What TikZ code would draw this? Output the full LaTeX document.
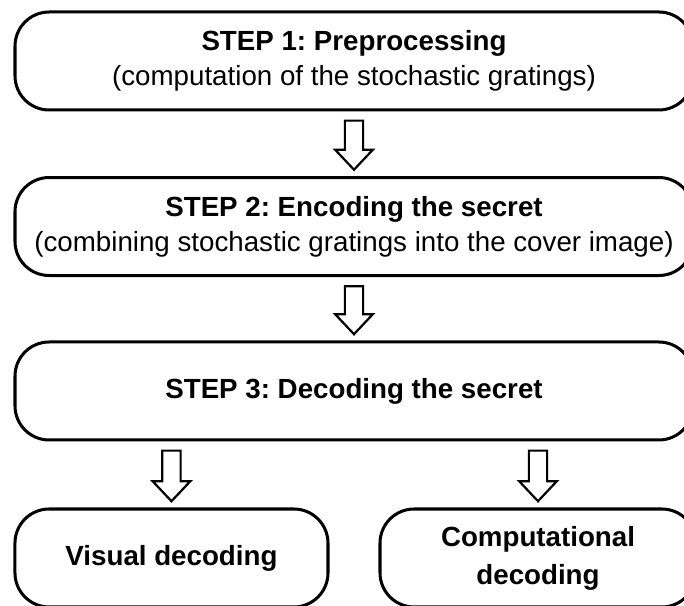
\documentclass[tikz,border=0pt]{standalone}
\usepackage{fontspec}
\setmainfont{Liberation Sans}
\usetikzlibrary{positioning, calc}
\frenchspacing

\begin{document}
\begin{tikzpicture}[
    stepbox/.style={draw, line width=1.5pt, rounded corners=17pt, minimum width=11.865cm, minimum height=1.715cm, align=center, font=\fontsize{13.8}{17.5}\selectfont},
    leafbox/.style={stepbox, minimum width=5.5cm, font=\fontsize{13.8}{19}\selectfont},
    blockarrow/.style={draw, line width=1.1pt, fill=white, to path={
        ($(\tikztostart)+(-0.16,-0.16)$) -- ($(\tikztotarget)+(-0.16,0.46)$) -- ($(\tikztotarget)+(-0.33,0.46)$) -- ($(\tikztotarget)+(0,0.11)$) -- ($(\tikztotarget)+(0.33,0.46)$) -- ($(\tikztotarget)+(0.16,0.46)$) -- ($(\tikztostart)+(0.16,-0.16)$) -- cycle}}
]
    \useasboundingbox (0,0) rectangle (11.97,-10.605);

    % Main steps
    \node[stepbox] (pre) at (6.195,-1.0675) {\textbf{STEP 1: Preprocessing}\\(computation of the stochastic gratings)};
    \node[stepbox] (enc) at (6.195,-3.964) {\textbf{STEP 2: Encoding the secret}\\(combining stochastic gratings into the cover image)};
    \node[stepbox] (dec) at (6.195,-6.8425) {\textbf{STEP 3: Decoding the secret}};

    % Two ways of decoding
    \node[leafbox, minimum width=5.478cm] (vis) at (3.001,-9.765) {\textbf{Visual decoding}};
    \node[leafbox, minimum width=5.53cm] (comp) at (9.415,-9.765) {\textbf{Computational}\\\textbf{decoding}};

    % Arrows
    \draw[blockarrow] (pre.south) to (enc.north);
    \draw[blockarrow] (enc.south) to (dec.north);
    \draw[blockarrow] (dec.south -| vis.north) to (vis.north);
    \draw[blockarrow] (dec.south -| comp.north) to (comp.north);
\end{tikzpicture}
\end{document}
